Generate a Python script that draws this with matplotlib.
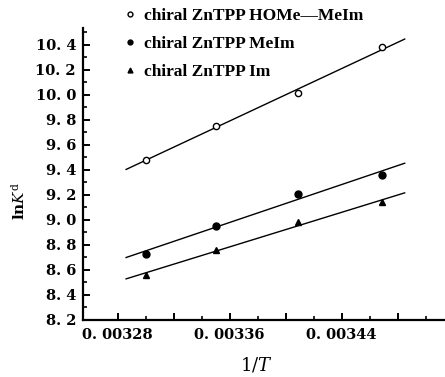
import numpy as np
import matplotlib.pyplot as plt
from matplotlib.lines import Line2D

# Datos
inv_T = [0.003300, 0.003350, 0.003409, 0.003469]
lnK_homeim = [9.48, 9.75, 10.01, 10.38]
lnK_meim = [8.73, 8.95, 9.21, 9.36]
lnK_im = [8.56, 8.76, 8.98, 9.14]

labels = ['chiral ZnTPP HOMe\u2014MeIm', 'chiral ZnTPP MeIm', 'chiral ZnTPP Im']

x_major = [0.00328, 0.00332, 0.00336, 0.00340, 0.00344, 0.00348]
x_major_labels = ['0. 00328', '', '0. 00336', '', '0. 00344', '']
x_minor = [0.00330, 0.00334, 0.00338, 0.00342, 0.00346, 0.00350]
y_major = [8.2, 8.4, 8.6, 8.8, 9.0, 9.2, 9.4, 9.6, 9.8, 10.0, 10.2, 10.4]
y_minor = [8.3, 8.5, 8.7, 8.9, 9.1, 9.3, 9.5, 9.7, 9.9, 10.1, 10.3, 10.5]
fit_range = [0.003286, 0.003485]

plt.rcParams['font.family'] = ['DejaVu Serif']
plt.rcParams['mathtext.fontset'] = 'dejavuserif'

fig = plt.figure(figsize=(4.45, 3.77), dpi=100)
ax = fig.add_axes([0.1865, 0.1512, 0.8135, 0.7737])

series = [
    (lnK_homeim, dict(marker='o', mfc='white', mec='black', ms=4.5, mew=1.0)),
    (lnK_meim, dict(marker='o', mfc='black', mec='black', ms=5)),
    (lnK_im, dict(marker='^', mfc='black', mec='black', ms=5)),
]

xf = np.array(fit_range)
for yv, style in series:
    p = np.polyfit(inv_T, yv, 1)
    ax.plot(xf, np.polyval(p, xf), color='black', lw=1.0)
    ax.plot(inv_T, yv, linestyle='none', zorder=3, **style)

ax.set_xlim(0.0032552, 0.0035138)
ax.set_ylim(8.2, 10.53)

ax.spines['top'].set_visible(False)
ax.spines['right'].set_visible(False)
for s in ['left', 'bottom']:
    ax.spines[s].set_linewidth(1.6)

ax.set_xticks(x_major)
ax.set_xticklabels(x_major_labels, fontsize=10.5, fontweight='bold')
ax.set_xticks(x_minor, minor=True)
ax.set_yticks(y_major)
ax.set_yticklabels([('%.1f' % v).replace('.', '. ') for v in y_major],
                   fontsize=10.5, fontweight='bold')
ax.set_yticks(y_minor, minor=True)
ax.tick_params(which='major', direction='in', length=5, width=1.4, pad=5)
ax.tick_params(which='minor', direction='in', length=3, width=1.2)
ax.tick_params(axis='x', which='major', pad=6)

ax.set_xlabel('$1/T$', fontsize=13)
ax.xaxis.set_label_coords(0.48, -0.123)
ax.set_ylabel(r'$\mathbf{ln}\mathit{K}^{\mathrm{d}}$', fontsize=11)
ax.yaxis.set_label_coords(-0.152, 0.408)

handles = [Line2D([], [], linestyle='none', **st) for _, st in series]
for h in handles:
    h.set_markersize(3.5)
leg = fig.legend(handles, labels, loc='upper left', bbox_to_anchor=(0.263, 1.0),
                 frameon=False, handlelength=0.6, handletextpad=0.5,
                 labelspacing=0.68, borderaxespad=0.05,
                 prop={'family': 'Liberation Serif', 'weight': 'bold', 'size': 12.5})

fig.savefig('out.png', dpi=100)
